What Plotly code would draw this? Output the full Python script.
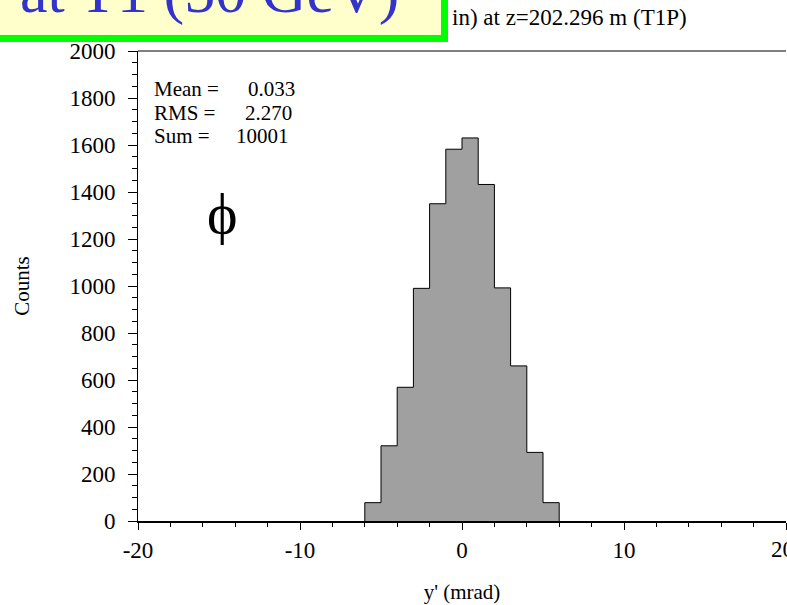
import plotly.graph_objects as go

# Histogram of y' at T1P: 1 mrad bins from -6 to +6
bin_edges = [-6, -5, -4, -3, -2, -1, 0, 1, 2, 3, 4, 5, 6]
counts = [78, 320, 569, 990, 1350, 1582, 1630, 1432, 992, 660, 292, 78]

x_ticks = [-20, -10, 0, 10, 20]
y_ticks = [0, 200, 400, 600, 800, 1000, 1200, 1400, 1600, 1800, 2000]

stats_labels = ["Mean =", "RMS =", "Sum ="]
stats_values = ["0.033", "2.270", "10001"]

W, H = 787, 605
L, R, T, B = 138, 1, 51, 84
PW, PH = W - L - R, H - T - B


def px(x):
    return (x - L) / PW


def py(y):
    return (H - B - y) / PH


SERIF = "Liberation Serif"
TICKFONT = dict(family=SERIF, size=23, color="black")

# step outline of the histogram
step_x = [bin_edges[0]] + bin_edges[:-1] + [bin_edges[-1], bin_edges[-1]]
step_y = [0] + counts + [counts[-1], 0]

fig = go.Figure()
fig.add_trace(go.Scatter(
    x=step_x, y=step_y, mode="lines", line=dict(shape="hv", color="black", width=1),
    fill="tozeroy", fillcolor="#a0a0a0", hoverinfo="skip", showlegend=False,
))

fig.update_layout(
    width=W, height=H,
    margin=dict(l=L, r=R, t=T, b=B, pad=0),
    paper_bgcolor="white", plot_bgcolor="white",
    font=dict(family=SERIF, size=22, color="black"),
    showlegend=False,
    xaxis=dict(
        range=[-20, 20], tickvals=x_ticks, ticktext=[str(v) for v in x_ticks],
        ticks="outside", ticklen=7, tickwidth=1, tickcolor="black",
        minor=dict(dtick=2, ticks="outside", ticklen=4, tickwidth=1, tickcolor="black"),
        showline=True, linecolor="black", linewidth=2, showgrid=False, zeroline=False,
        tickfont=TICKFONT,
        title=dict(text="y' (mrad)", font=dict(family=SERIF, size=21), standoff=23),
    ),
    yaxis=dict(
        range=[0, 2000], tickvals=y_ticks,
        ticks="outside", ticklen=9, tickwidth=1, tickcolor="black",
        minor=dict(dtick=50, ticks="outside", ticklen=5, tickwidth=1, tickcolor="black"),
        showline=True, linecolor="black", linewidth=1, showgrid=False, zeroline=False,
        tickfont=TICKFONT, ticklabelstandoff=8,
        title=dict(text="Counts", font=dict(family=SERIF, size=21), standoff=34),
    ),
)

shapes = [
    # top frame line
    dict(type="line", xref="paper", yref="paper", x0=0, x1=1, y0=1, y1=1,
         line=dict(color="black", width=1)),
    # banner box
    dict(type="rect", xref="paper", yref="paper",
         x0=px(-20), x1=px(444.5), y0=py(38.5), y1=py(-40),
         fillcolor="#ffffcc", line=dict(color="#00ff00", width=7), layer="above"),
]
fig.update_layout(shapes=shapes)

ann = []
ann.append(dict(text="at T1 (50 GeV)", xref="paper", yref="paper", x=px(401), y=py(28),
                xanchor="right", yanchor="bottom", showarrow=False,
                font=dict(family=SERIF, size=62, color="#3333cc")))
ann.append(dict(text="in) at z=202.296 m (T1P)", xref="paper", yref="paper", x=px(450), y=py(32),
                xanchor="left", yanchor="bottom", showarrow=False,
                font=dict(family=SERIF, size=23)))
# right-end x tick label, partly beyond the page edge
ann.append(dict(text=str(x_ticks[-1]), xref="paper", yref="paper", x=px(769), y=py(549),
                xanchor="left", yanchor="middle", showarrow=False, font=TICKFONT))
for i, (lab, val) in enumerate(zip(stats_labels, stats_values)):
    base = 96 + i * 23.5
    ann.append(dict(text=lab, xref="paper", yref="paper", x=px(152), y=py(base - 7),
                    xanchor="left", yanchor="middle", showarrow=False,
                    font=dict(family=SERIF, size=21)))
    ann.append(dict(text=val, xref="paper", yref="paper", x=px(297 - i * 3), y=py(base - 7),
                    xanchor="right", yanchor="middle", showarrow=False,
                    font=dict(family=SERIF, size=21)))
ann.append(dict(text="\u03d5", xref="paper", yref="paper", x=px(222), y=py(213),
                xanchor="center", yanchor="middle", showarrow=False,
                font=dict(family=SERIF, size=58)))
fig.update_layout(annotations=ann)

fig.write_html("out.html")
